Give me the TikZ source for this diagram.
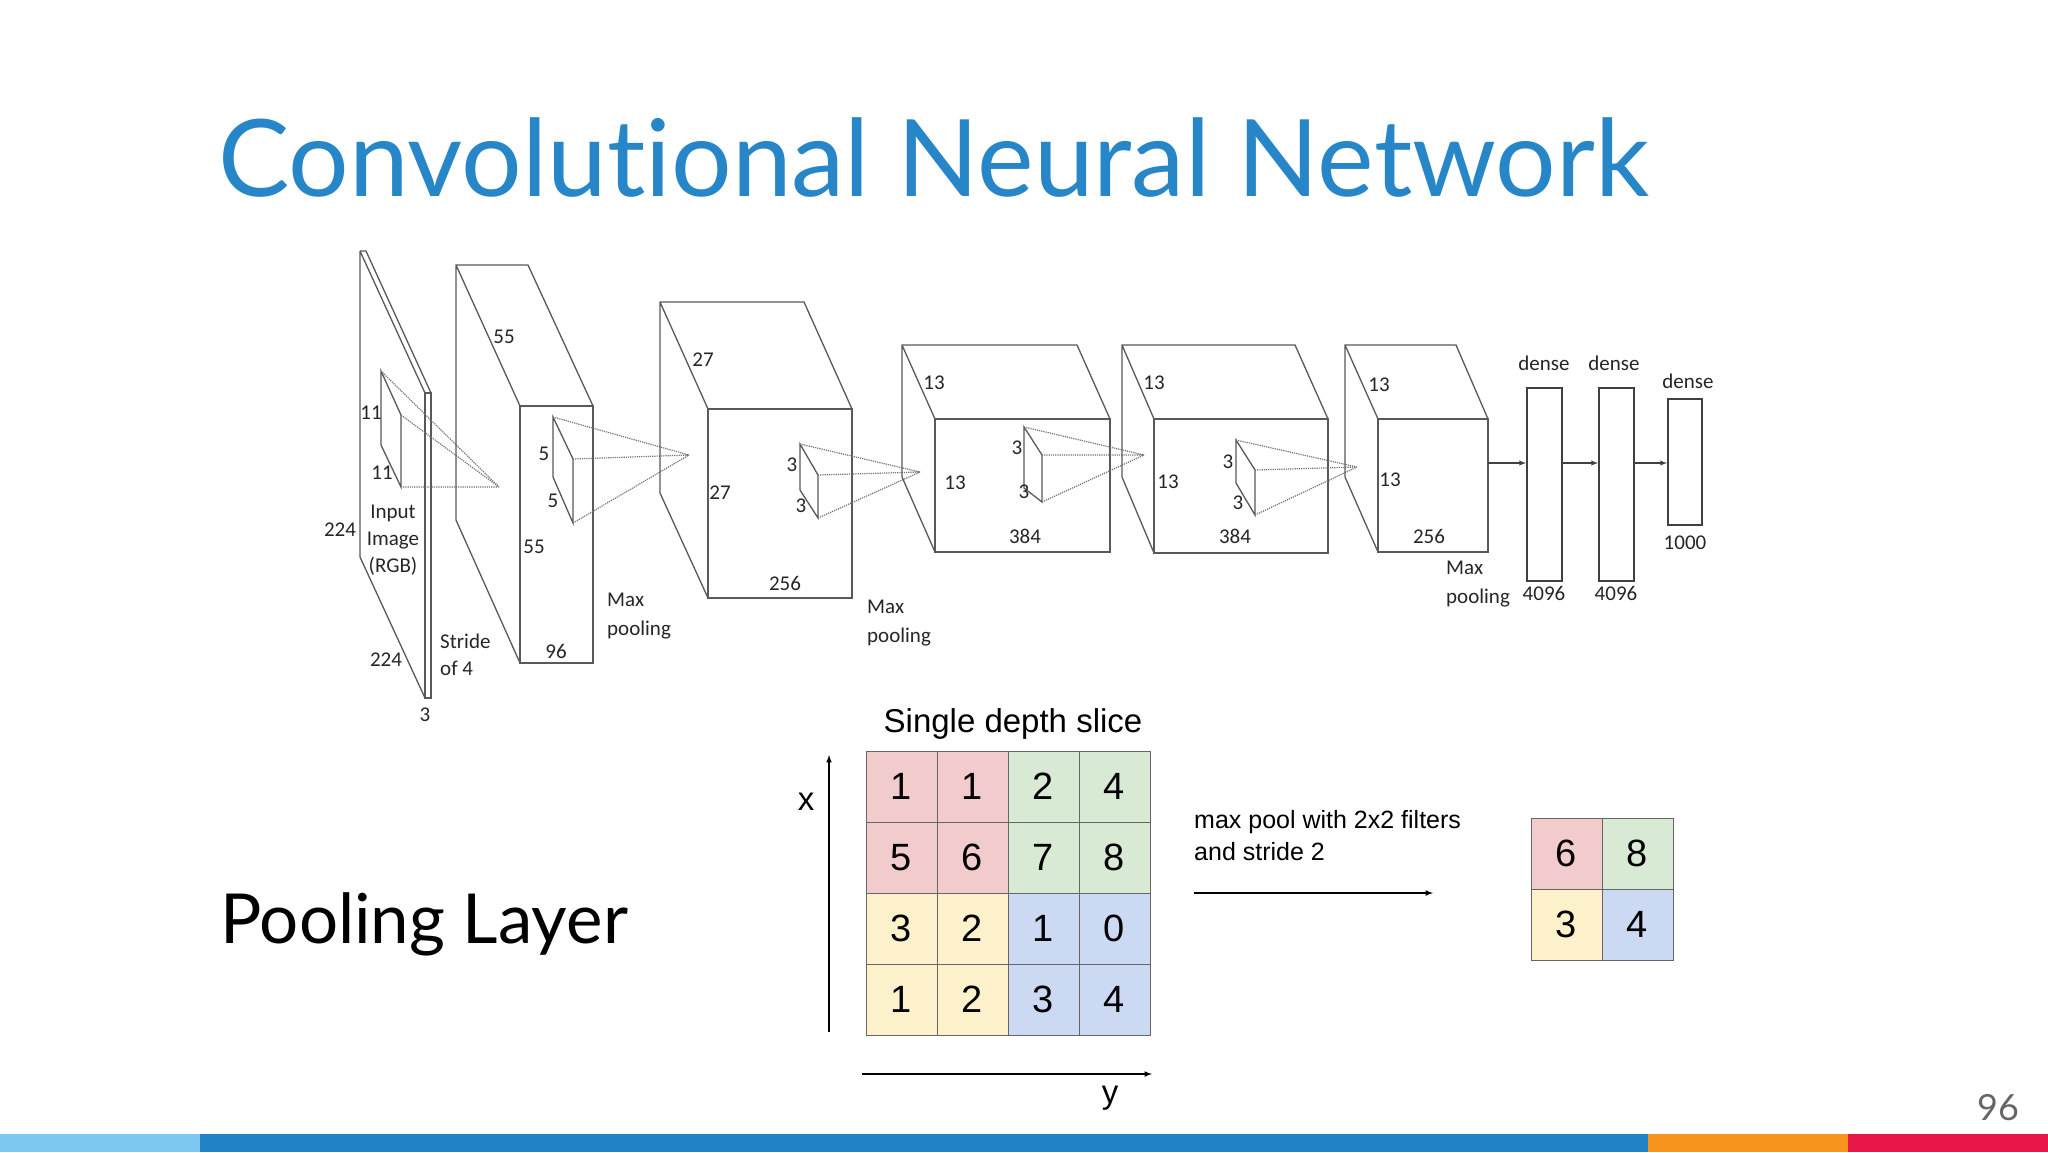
\documentclass[tikz,border=0pt]{standalone}
\usepackage{fontspec}
\setmainfont{Lato}[Ligatures={NoCommon}]
\newfontfamily\calfont{Carlito}
\newfontfamily\arifont{Liberation Sans}
\begin{document}
\begin{tikzpicture}[x=1pt,y=-1pt,
  ln/.style={draw=black!65,line width=1.3pt},
  dt/.style={draw=black!55,line width=1.2pt,densely dotted},
  lb/.style={font=\calfont\fontsize{21}{21}\selectfont,text=black!85,inner sep=0pt},
  cell/.style={draw=black!60,line width=1pt,minimum size=71pt,inner sep=0pt,font=\arifont\fontsize{38}{38}\selectfont},
  arr/.style={draw=black,line width=1.5pt,-latex}]
\useasboundingbox[fill=white] (0,0) rectangle (2048,1152);
% title
\node[anchor=base west,inner sep=0pt,text={rgb,255:red,38;green,134;blue,200},font=\fontsize{107}{107}\selectfont] (title) at (218,196) {Convolutional Neural Network};
\node[anchor=base west,inner sep=0pt,font=\fontsize{69}{69}\selectfont] (pl) at (220,943) {Pooling Layer};
% input plane
\draw[ln] (360,251)--(360,557)--(425,698) (360,251)--(366,251)--(431,393) (360,251)--(425,393);
\draw[ln] (425,393) rectangle (431,698);
% kernel 1
\draw[ln] (381,371)--(381,445)--(401,487)--(401,415)--cycle;
\draw[dt] (381,371)--(499,487) (401,415)--(499,487) (401,487)--(499,487);
% conv1
\draw[ln] (456,520)--(456,265)--(528,265)--(593,406) (456,265)--(520,406) (456,520)--(520,663);
\draw[ln] (520,406) rectangle (593,663);
\draw[ln] (553,417)--(553,477)--(573,523)--(573,459)--cycle;
\draw[dt] (553,417)--(689,455) (573,459)--(689,455) (573,523)--(689,455);
% conv2
\draw[ln] (660,493)--(660,302)--(804,302)--(852,409) (660,302)--(708,409) (660,493)--(708,598);
\draw[ln] (708,409) rectangle (852,598);
\draw[ln] (800,444)--(800,490)--(818,518)--(818,475)--cycle;
\draw[dt] (800,444)--(920,472) (818,475)--(920,472) (818,518)--(920,472);
% conv3
\draw[ln] (902,477)--(902,345)--(1077,345)--(1110,419) (902,345)--(935,419) (902,477)--(935,552);
\draw[ln] (935,419) rectangle (1110,552);
\draw[ln] (1024,427)--(1024,488)--(1042,502)--(1042,455)--cycle;
\draw[dt] (1024,427)--(1144,455) (1042,455)--(1144,455) (1042,502)--(1144,455);
% conv4
\draw[ln] (1122,477)--(1122,345)--(1295,345)--(1328,419) (1122,345)--(1154,419) (1122,477)--(1154,553);
\draw[ln] (1154,419) rectangle (1328,553);
\draw[ln] (1236,440)--(1236,483)--(1255,515)--(1255,470)--cycle;
\draw[dt] (1236,440)--(1357,467) (1255,470)--(1357,467) (1255,515)--(1357,467);
% conv5
\draw[ln] (1345,477)--(1345,345)--(1456,345)--(1488,419) (1345,345)--(1378,419) (1345,477)--(1378,552);
\draw[ln] (1378,419) rectangle (1488,552);
% dense
\node[ln,draw=black!75,line width=2pt,minimum width=35pt,minimum height=193pt,inner sep=0pt] (d1) at (1544.5,484.5) {};
\node[ln,draw=black!75,line width=2pt,minimum width=35pt,minimum height=193pt,inner sep=0pt] (d2) at (1616.5,484.5) {};
\node[ln,draw=black!75,line width=2pt,minimum width=34pt,minimum height=126pt,inner sep=0pt] (d3) at (1685,462) {};
\coordinate (c5) at (1488,463);
\draw[line width=1.3pt,black!75,-latex] (c5)--(d1.west|-c5);
\draw[line width=1.3pt,black!75,-latex] (d1.east|-c5)--(d2.west|-c5);
\draw[line width=1.3pt,black!75,-latex] (d2.east|-c5)--(d3.west|-c5);
% labels
\node[lb] (l1) at (371,413) {11};
\node[lb] (l2) at (382,473) {11};
\node[lb,align=center,font=\calfont\fontsize{21}{27}\selectfont] (l3) at (393,540) {Input\\Image\\(RGB)};
\node[lb] (l4) at (340,530) {224};
\node[lb] (l5) at (386,660) {224};
\node[lb] (l6) at (425,715) {3};
\node[lb,align=left,anchor=west,font=\calfont\fontsize{21}{27}\selectfont] (l7) at (440,655) {Stride\\of 4};
\node[lb] (l8) at (504,337) {55};
\node[lb] (l9) at (534,547) {55};
\node[lb] (l10) at (556,651) {96};
\node[lb] (l11) at (544,454) {5};
\node[lb] (l12) at (553,501) {5};
\node[lb,align=left,anchor=west,font=\calfont\fontsize{21}{29}\selectfont] (l13) at (607,616) {Max\\pooling};
\node[lb] (l14) at (703,360) {27};
\node[lb] (l15) at (720,493) {27};
\node[lb] (l16) at (785,583) {256};
\node[lb] (l17) at (792,465) {3};
\node[lb] (l18) at (801,506) {3};
\node[lb,align=left,anchor=west,font=\calfont\fontsize{21}{29}\selectfont] (l19) at (867,623) {Max\\pooling};
\node[lb] (l20) at (934,383) {13};
\node[lb] (l21) at (955,483) {13};
\node[lb] (l22) at (1025,536) {384};
\node[lb] (l23) at (1017,448) {3};
\node[lb] (l24) at (1024,492) {3};
\node[lb] (l25) at (1154,383) {13};
\node[lb] (l26) at (1168,482) {13};
\node[lb] (l27) at (1235,536) {384};
\node[lb] (l28) at (1228,462) {3};
\node[lb] (l29) at (1238,503) {3};
\node[lb] (l30) at (1379,385) {13};
\node[lb] (l31) at (1390,480) {13};
\node[lb] (l32) at (1429,536) {256};
\node[lb,align=left,anchor=west,font=\calfont\fontsize{21}{29}\selectfont] (l33) at (1446,584) {Max\\pooling};
\node[lb] (l34) at (1544,363) {dense};
\node[lb] (l35) at (1614,363) {dense};
\node[lb] (l36) at (1688,381) {dense};
\node[lb] (l37) at (1544,593) {4096};
\node[lb] (l38) at (1616,593) {4096};
\node[lb] (l39) at (1685,543) {1000};
% pooling grid
\definecolor{cr}{RGB}{242,204,204}
\definecolor{cg}{RGB}{216,234,211}
\definecolor{cy}{RGB}{253,241,204}
\definecolor{cb}{RGB}{203,217,242}
\foreach \r/\c/\v/\f [count=\i] in {0/0/1/cr,0/1/1/cr,0/2/2/cg,0/3/4/cg,1/0/5/cr,1/1/6/cr,1/2/7/cg,1/3/8/cg,2/0/3/cy,2/1/2/cy,2/2/1/cb,2/3/0/cb,3/0/1/cy,3/1/2/cy,3/2/3/cb,3/3/4/cb}
  \node[cell,fill=\f] (g\i) at ({901.5+71*\c},{786.5+71*\r}) {\v};
\foreach \r/\c/\v/\f [count=\i] in {0/0/6/cr,0/1/8/cg,1/0/3/cy,1/1/4/cb}
  \node[cell,fill=\f] (h\i) at ({1566.5+71*\c},{853.5+71*\r}) {\v};
\node[font=\arifont\fontsize{33}{33}\selectfont,inner sep=0pt] (sds) at (1013,724) {Single depth slice};
\coordinate (xa) at (829,1032); \coordinate (xb) at (829,755);
\draw[arr] (xa)--(xb);
\node[font=\arifont\fontsize{33}{33}\selectfont,inner sep=0pt] (xl) at (806,802) {x};
\coordinate (ya) at (862,1074); \coordinate (yb) at (1152,1074);
\draw[arr] (ya)--(yb);
\node[font=\arifont\fontsize{33}{33}\selectfont,inner sep=0pt] (yl) at (1110,1098) {y};
\node[font=\arifont\fontsize{25}{32}\selectfont,align=left,anchor=north west,inner sep=0pt] (mp) at (1194,810) {max pool with 2x2 filters\\and stride 2};
\coordinate (ma) at (1194,893); \coordinate (mb) at (1433,893);
\draw[arr] (ma)--(mb);
% page number
\node[text=black!60,font=\fontsize{36}{36}\selectfont,inner sep=0pt] (pn) at (1998,1108) {96};
% bottom bar
\fill[color={rgb,255:red,125;green,200;blue,240}] (0,1134) rectangle (200,1152);
\fill[color={rgb,255:red,35;green,130;blue,196}] (200,1134) rectangle (1648,1152);
\fill[color={rgb,255:red,247;green,148;blue,29}] (1648,1134) rectangle (1848,1152);
\fill[color={rgb,255:red,232;green,23;blue,75}] (1848,1134) rectangle (2048,1152);
\end{tikzpicture}
\end{document}
